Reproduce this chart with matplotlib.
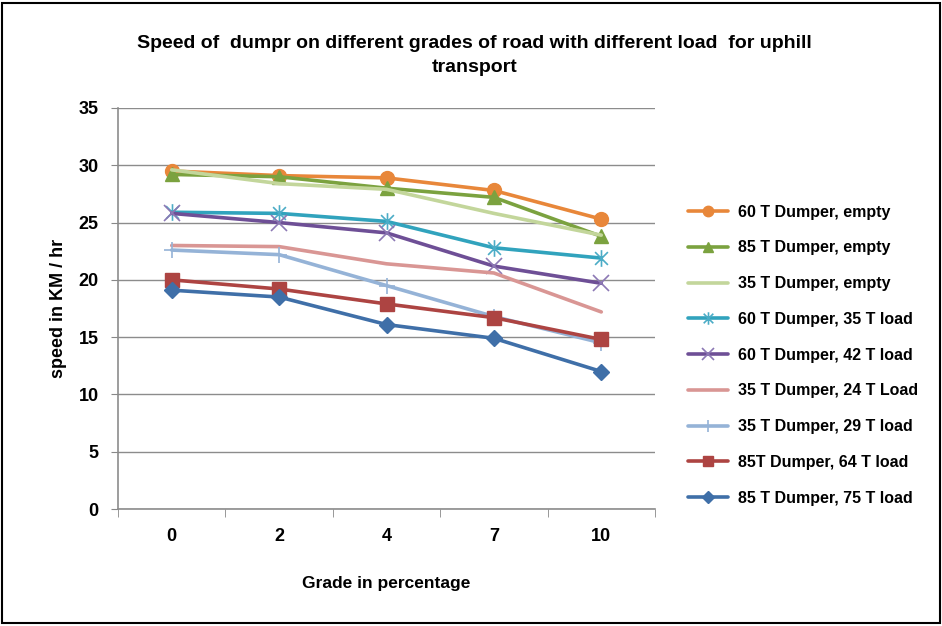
import numpy as np
import matplotlib.pyplot as plt
from matplotlib.path import Path
from matplotlib.patches import Rectangle

plt.rcParams['font.family'] = ['Liberation Sans', 'DejaVu Sans']

grades = ["0", "2", "4", "7", "10"]

dumper_60_empty = [29.5, 29.1, 28.9, 27.8, 25.3]
dumper_85_empty = [29.2, 29.0, 28.0, 27.2, 23.8]
dumper_35_empty = [29.6, 28.4, 27.9, 25.8, 23.9]
dumper_60_load35 = [25.9, 25.8, 25.1, 22.8, 21.9]
dumper_60_load42 = [25.8, 25.0, 24.1, 21.2, 19.7]
dumper_35_load24 = [23.0, 22.9, 21.4, 20.6, 17.2]
dumper_35_load29 = [22.6, 22.2, 19.5, 16.8, 14.5]
dumper_85_load64 = [20.0, 19.2, 17.9, 16.7, 14.8]
dumper_85_load75 = [19.1, 18.5, 16.1, 14.9, 12.0]

labels = ["60 T Dumper, empty", "85 T Dumper, empty", "35 T Dumper, empty",
          "60 T Dumper, 35 T load", "60 T Dumper, 42 T load", "35 T Dumper, 24 T Load",
          "35 T Dumper, 29 T load", "85T Dumper, 64 T load", "85 T Dumper, 75 T load"]

# excel style star: an x with a vertical bar through it
star = Path([(-1, -1), (1, 1), (-1, 1), (1, -1), (0, -1.3), (0, 1.3)],
            [Path.MOVETO, Path.LINETO, Path.MOVETO, Path.LINETO, Path.MOVETO, Path.LINETO])

series = [
    (dumper_60_empty, "#E8873A", "o", 10, None),
    (dumper_85_empty, "#7BA23F", "^", 10, None),
    (dumper_35_empty, "#C3D69B", None, 0, None),
    (dumper_60_load35, "#31A3BD", star, 12, "#4BACC6"),
    (dumper_60_load42, "#6E4F96", "x", 11, "#8C78B4"),
    (dumper_35_load24, "#D99694", None, 0, None),
    (dumper_35_load29, "#95B3D7", "+", 12, "#95B3D7"),
    (dumper_85_load64, "#AD4442", "s", 10, None),
    (dumper_85_load75, "#3F6FA8", "D", 8, None),
]

fig = plt.figure(figsize=(9.42, 6.26), dpi=100)
ax = fig.add_axes([0.1253, 0.1869, 0.570, 0.6406])

x = np.arange(len(grades))
for (vals, col, mk, ms, mcol), lab in zip(series, labels):
    kw = dict(color=col, lw=2.6, label=lab, solid_capstyle="round")
    if mk is not None:
        kw.update(marker=mk, markersize=ms)
        if mcol is not None:
            kw.update(markeredgecolor=mcol, markeredgewidth=1.2)
    ax.plot(x, vals, **kw)

ax.set_xlim(-0.5, 4.5)
ax.set_ylim(0, 35)
ax.set_yticks(np.arange(0, 36, 5))
ax.set_xticks(x)
ax.set_xticklabels(grades)
ax.set_xticks(np.arange(-0.5, 5, 1), minor=True)
ax.tick_params(axis="x", which="major", length=0, pad=14, labelsize=13)
ax.tick_params(axis="x", which="minor", length=6, color="#888888", direction="out")
ax.tick_params(axis="y", length=5, color="#888888", labelsize=13, pad=9)
for t in ax.get_xticklabels() + ax.get_yticklabels():
    t.set_fontweight("bold")

ax.grid(axis="y", color="#8C8C8C", lw=1)
ax.set_axisbelow(True)
for side in ["top", "right"]:
    ax.spines[side].set_visible(False)
for side in ["left", "bottom"]:
    ax.spines[side].set_color("#8C8C8C")
    ax.spines[side].set_linewidth(1.2)

ax.set_xlabel("Grade in percentage", fontsize=12.5, fontweight="bold", labelpad=22)
ax.set_ylabel("speed in KM / hr", fontsize=13, fontweight="bold", labelpad=8)

fig.text(0.504, 0.911, "Speed of  dumpr on different grades of road with different load  for uphill\ntransport",
         ha="center", va="center", fontsize=14, fontweight="bold", linespacing=1.55)

leg = ax.legend(loc="upper left", bbox_to_anchor=(1.05, 0.775), frameon=False,
                fontsize=11.5, handlelength=2.5, labelspacing=1.3, handletextpad=0.6,
                borderaxespad=0)
for t in leg.get_texts():
    t.set_fontweight("bold")
for h in leg.legend_handles:
    h.set_markersize(h.get_markersize() * 0.75)

fig.patches.append(Rectangle((0.002, 0.004), 0.996, 0.992, transform=fig.transFigure,
                             fill=False, edgecolor="black", lw=1.5))

fig.savefig("out.png", dpi=100)
